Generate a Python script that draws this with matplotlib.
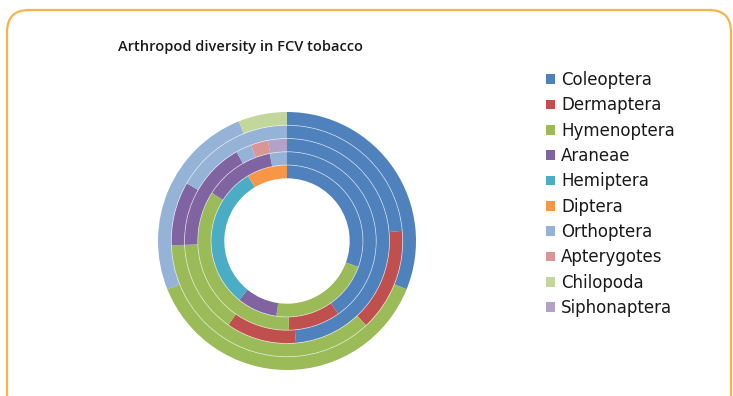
import matplotlib
matplotlib.use("Agg")
import matplotlib.pyplot as plt
from matplotlib.patches import FancyBboxPatch, Patch, Circle
from matplotlib.transforms import IdentityTransform

categories = ["Coleoptera", "Dermaptera", "Hymenoptera", "Araneae", "Hemiptera",
              "Diptera", "Orthoptera", "Apterygotes", "Chilopoda", "Siphonaptera"]

# share (%) of each order, one list per ring, innermost ring first
series_1 = [30.6, 0.0, 21.7, 8.6, 30.6, 8.6, 0.0, 0.0, 0.0, 0.0]
series_2 = [40.2, 9.4, 34.4, 12.8, 0.0, 0.0, 3.1, 0.0, 0.0, 0.0]
series_3 = [48.6, 11.1, 14.7, 17.4, 0.0, 0.0, 2.5, 2.7, 0.0, 3.0]
series_4 = [23.6, 14.4, 36.4, 8.9, 0.0, 0.0, 16.7, 0.0, 0.0, 0.0]
series_5 = [31.1, 0.0, 37.8, 0.0, 0.0, 0.0, 25.0, 0.0, 6.1, 0.0]
rings = [series_1, series_2, series_3, series_4, series_5]

colors = ["#4F81BD", "#C0504D", "#9BBB59", "#8064A2", "#4BACC6",
          "#F79646", "#95B3D7", "#D99694", "#C3D69B", "#B3A2C7"]

W, H, DPI = 733, 396, 100
fig = plt.figure(figsize=(W / DPI, H / DPI), dpi=DPI)
fig.patch.set_facecolor("white")

# rounded orange frame around the chart area (pixel coordinates)
frame = FancyBboxPatch((7, -20), 724, 406,
                       boxstyle="round,pad=0,rounding_size=22",
                       transform=IdentityTransform(), facecolor="none",
                       edgecolor="#F9B449", linewidth=1.6, zorder=0)
fig.patches.append(frame)

# doughnut axes: centre at (287, 241) px, outer radius 129 px
cx, cy, R = 287, H - 241, 129
ax = fig.add_axes([(cx - R - 1) / W, (cy - R - 1) / H, (2 * R + 2) / W, (2 * R + 2) / H])
ax.axis("off")

hole = 0.486
w = (1 - hole) / len(rings)
for i, vals in enumerate(rings):
    keep = [(v, c) for v, c in zip(vals, colors) if v > 0]
    ax.pie([k[0] for k in keep], colors=[k[1] for k in keep],
           radius=hole + (i + 1) * w, startangle=90, counterclock=False,
           wedgeprops=dict(width=w, linewidth=0))

# thin pale separators between the rings
for i in range(1, len(rings)):
    ax.add_patch(Circle((0, 0), hole + i * w, facecolor="none",
                        edgecolor="white", linewidth=0.6, alpha=0.55, zorder=5))

lim = (R + 1) / R
ax.set_xlim(-lim, lim)
ax.set_ylim(-lim, lim)
ax.set_aspect("equal")

fig.text(240 / W, 1 - 47 / H, "Arthropod diversity in FCV tobacco",
         ha="center", va="center", fontsize=10.5, fontweight=600,
         color="#1a1a1a", family="Open Sans")

handles = [Patch(facecolor=c, edgecolor="none") for c in colors]
fig.legend(handles, categories, loc="upper left",
           bbox_to_anchor=(546 / W, 1 - 71 / H), frameon=False,
           fontsize=12, handlelength=0.52, handleheight=0.52,
           handletextpad=0.4, labelspacing=0.44, borderaxespad=0,
           borderpad=0, labelcolor="#1a1a1a")

fig.savefig("out.png", dpi=DPI)
